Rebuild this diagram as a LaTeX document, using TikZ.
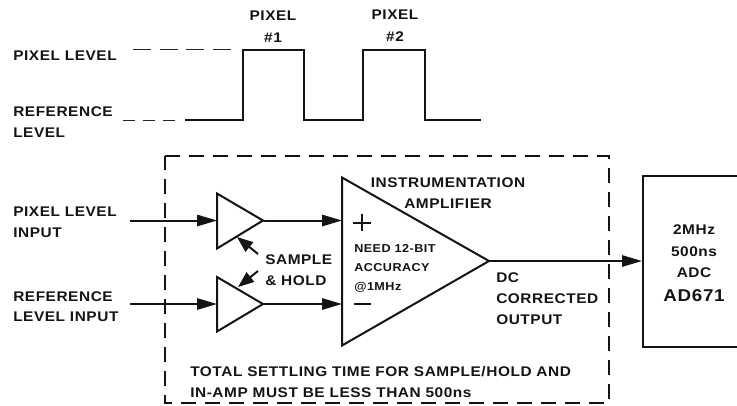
\documentclass[tikz,border=0pt]{standalone}
\usepackage{fontspec}
\setmainfont{Liberation Sans}[FakeStretch=1.1,LetterSpace=4,BoldFont={Liberation Sans Bold}]
\usetikzlibrary{arrows.meta}
\tikzset{
  x=0.75pt,y=-0.75pt,
  line/.style={line width=1.5pt,black!92,line join=miter},
  thinline/.style={line width=1pt,black!85},
  sig/.style={line width=1.5pt,black!92,-{Triangle[length=15pt,width=8.5pt]}},
  shsig/.style={line width=1.5pt,black!92,-{Triangle[length=12pt,width=9pt]}},
  lab/.style={inner sep=0pt,text height=7.5pt,text depth=0pt,font=\bfseries\fontsize{10.5}{12}\selectfont,text=black!92},
  lableft/.style={lab,anchor=west},
  small/.style={lab,font=\bfseries\fontsize{8.6}{10}\selectfont,text height=6.2pt},
  smallleft/.style={small,anchor=west},
  big/.style={lab,font=\bfseries\fontsize{12.8}{14}\selectfont,text height=9.2pt}
}
\begin{document}
\begin{tikzpicture}
\useasboundingbox (0,0) rectangle (737,405);
% waveform
\coordinate (w0) at (185,120);
\coordinate (w1) at (243,120);
\coordinate (w2) at (243,49.5);
\coordinate (w3) at (304,49.5);
\coordinate (w4) at (304,120);
\coordinate (w5) at (363,120);
\coordinate (w6) at (363,49.5);
\coordinate (w7) at (425,49.5);
\coordinate (w8) at (425,120);
\coordinate (w9) at (481,120);
\draw[line] (w0)--(w1)--(w2)--(w3)--(w4)--(w5)--(w6)--(w7)--(w8)--(w9);
\coordinate (d1a) at (133,49.5); \coordinate (d1b) at (233,49.5);
\coordinate (d2a) at (123,120.5); \coordinate (d2b) at (182,120.5);
\draw[thinline,dash pattern=on 13.5pt off 6.5pt] (d1a)--(d1b);
\draw[thinline,dash pattern=on 9pt off 6pt] (d2a)--(d2b);
% waveform labels
\node[lableft] (lpl) at (13,55) {PIXEL LEVEL};
\node[lableft] (lrl1) at (13,111) {REFERENCE};
\node[lableft] (lrl2) at (13,132) {LEVEL};
\node[lab] (p1a) at (273,15.5) {PIXEL};
\node[lab] (p1b) at (273,37) {\#1};
\node[lab] (p2a) at (395,14.5) {PIXEL};
\node[lab] (p2b) at (395,36) {\#2};
% dashed box
\coordinate (b1) at (165,156); \coordinate (b2) at (609,156);
\coordinate (b3) at (609,403); \coordinate (b4) at (165,403);
\draw[line,dash pattern=on 11pt off 7pt] (b1)--(b2)--(b3)--(b4)--cycle;
% triangles
\coordinate (s1t) at (217,193.5); \coordinate (s1b) at (217,248.5); \coordinate (s1o) at (263,220.5);
\coordinate (s1i) at (217,220.5); \coordinate (s1m) at (237,237);
\coordinate (s2t) at (217,277); \coordinate (s2b) at (217,331.5); \coordinate (s2o) at (263,304);
\coordinate (s2i) at (217,304); \coordinate (s2m) at (238,287);
\coordinate (at) at (342,177.5); \coordinate (ab) at (342,345.5); \coordinate (ao) at (489,261);
\coordinate (ap) at (342,220.5); \coordinate (am) at (342,304);
\draw[line] (s1t)--(s1o)--(s1b)--cycle;
\draw[line] (s2t)--(s2o)--(s2b)--cycle;
\draw[line] (at)--(ao)--(ab)--cycle;
% ADC
\node[draw,line,minimum width=98pt,minimum height=128.25pt,anchor=north west,inner sep=0pt] (adc) at (642,175) {};
% connectors
\coordinate (in1) at (130,220.5); \coordinate (in2) at (130,304);
\coordinate (adci) at (642,261);
\draw[sig] (in1)--(s1i);
\draw[sig] (in2)--(s2i);
\draw[sig] (s1o)--(ap);
\draw[sig] (s2o)--(am);
\draw[sig] (ao)--(adci);
\coordinate (sh1) at (258,254); \coordinate (sh2) at (258,271);
\draw[shsig] (sh1)--(s1m);
\draw[shsig] (sh2)--(s2m);
% labels
\node[lableft] (li1a) at (13,211) {PIXEL LEVEL};
\node[lableft] (li1b) at (13,232) {INPUT};
\node[lableft] (li2a) at (13,296) {REFERENCE};
\node[lableft] (li2b) at (13,316) {LEVEL INPUT};
\node[lab] (ia1) at (448,182) {INSTRUMENTATION};
\node[lab] (ia2) at (448,203) {AMPLIFIER};
\node[lableft] (sh3) at (265,259) {SAMPLE};
\node[lableft] (sh4) at (265,280) {\&\ HOLD};
\node[smallleft] (n1) at (354,248) {NEED 12-BIT};
\node[smallleft] (n2) at (354,267) {ACCURACY};
\node[smallleft] (n3) at (354,286) {@1MHz};
\coordinate (pa) at (353,222.5); \coordinate (pb) at (371,222.5);
\coordinate (pc) at (362,214); \coordinate (pd) at (362,231);
\draw[line] (pa)--(pb) (pc)--(pd);
\coordinate (ma) at (354,303.5); \coordinate (mb) at (371,303.5);
\draw[line] (ma)--(mb);
\node[lableft] (dc1) at (496,277) {DC};
\node[lableft] (dc2) at (496,298) {CORRECTED};
\node[lableft] (dc3) at (496,319) {OUTPUT};
\node[lableft] (t1) at (190,371) {TOTAL SETTLING TIME FOR SAMPLE/HOLD AND};
\node[lableft] (t2) at (190,392) {IN-AMP MUST BE LESS THAN 500ns};
\node[lab] (a1) at (694,229) {2MHz};
\node[lab] (a2) at (694,251) {500ns};
\node[lab] (a3) at (694,272) {ADC};
\node[big] (a4) at (694,295) {AD671};
\end{tikzpicture}
\end{document}
